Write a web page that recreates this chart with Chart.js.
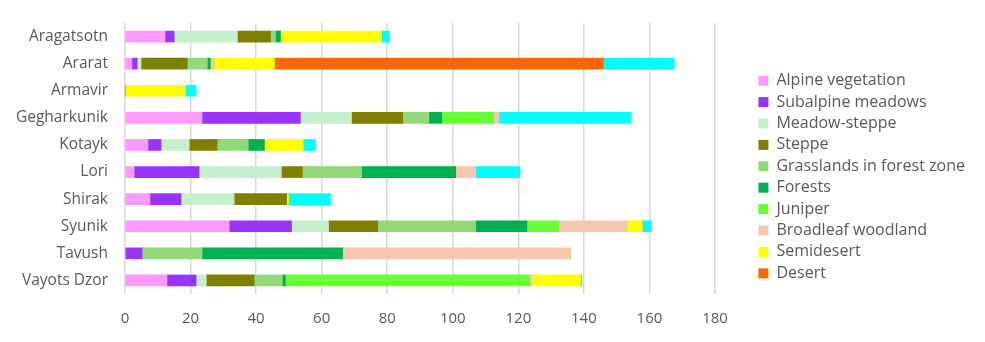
<!DOCTYPE html>
<html>
<head>
<meta charset="utf-8">
<script src="https://cdn.jsdelivr.net/npm/chart.js@4"></script>
<style>
  html, body { margin: 0; padding: 0; background: #fff; }
  #wrap { width: 985px; height: 342px; }
</style>
</head>
<body>
<div id="wrap"><canvas id="vegChart" width="985" height="342"></canvas></div>
<script>
// Regions of Armenia
const regions = ['Aragatsotn', 'Ararat', 'Armavir', 'Gegharkunik', 'Kotayk', 'Lori', 'Shirak', 'Syunik', 'Tavush', 'Vayots Dzor'];

// Area per vegetation type, one value per region
const alpine     = [12.2, 2.1, 0, 23.5, 7.0, 2.8, 7.6, 31.8, 0, 12.8];
const subalpine  = [2.8, 1.6, 0, 30.0, 4.0, 19.8, 9.5, 19.0, 5.2, 8.9];
const meadow     = [19.3, 1.2, 0, 15.6, 8.6, 25.1, 16.2, 11.3, 0, 3.1];
const steppe     = [10.1, 14.1, 0, 15.6, 8.5, 6.4, 16.0, 15.0, 0, 14.6];
const grassland  = [1.5, 6.1, 0, 8.0, 9.5, 18.1, 0, 29.9, 18.3, 8.6];
const forests    = [1.5, 0.9, 0, 3.9, 4.9, 28.7, 0, 15.6, 42.9, 0.9];
const juniper    = [0, 0, 0, 15.9, 0, 0, 0, 9.8, 0, 74.6];
const broadleaf  = [0, 1.2, 0, 1.6, 0, 6.1, 0, 20.8, 69.4, 0.7];
const semidesert = [30.9, 18.4, 18.5, 0, 11.9, 0, 0.6, 4.6, 0, 14.9];
const desert     = [0, 100.3, 0, 0, 0, 0, 0, 0, 0, 0];
const other      = [2.4, 21.7, 3.2, 40.3, 3.7, 13.5, 12.8, 2.8, 0, 0.3];

const xTicks = [0, 20, 40, 60, 80, 100, 120, 140, 160, 180];

const series = [
    ['Alpine vegetation', alpine, '#FF99FF'],
    ['Subalpine meadows', subalpine, '#9933FF'],
    ['Meadow-steppe', meadow, '#C6EFCE'],
    ['Steppe', steppe, '#808000'],
    ['Grasslands in forest zone', grassland, '#92D977'],
    ['Forests', forests, '#00B050'],
    ['Juniper', juniper, '#66FF33'],
    ['Broadleaf woodland', broadleaf, '#F6C7AD'],
    ['Semidesert', semidesert, '#FFFF00'],
    ['Desert', desert, '#FF6600'],
    ['Other', other, '#00FFFF']
];

const textColor = '#595959';
const fontFamily = '"Open Sans", sans-serif';

const ctx = document.getElementById('vegChart').getContext('2d');
new Chart(ctx, {
    type: 'bar',
    data: {
        labels: regions,
        datasets: series.map(s => ({
            label: s[0],
            data: s[1],
            backgroundColor: s[2],
            barThickness: 11
        }))
    },
    options: {
        indexAxis: 'y',
        responsive: false,
        animation: false,
        layout: {
            padding: { top: 23, bottom: 11, left: 0, right: 10 }
        },
        plugins: {
            tooltip: { enabled: false },
            legend: {
                position: 'right',
                maxWidth: 260,
                labels: {
                    boxWidth: 10,
                    boxHeight: 10,
                    padding: 5.4,
                    color: textColor,
                    font: { family: fontFamily, size: 16 },
                    filter: item => item.text !== 'Other'
                }
            }
        },
        scales: {
            x: {
                stacked: true,
                min: 0,
                max: 180,
                afterBuildTicks: s => { s.ticks = xTicks.map(v => ({ value: v })); },
                afterFit: s => { s.height = 37; },
                border: { display: false },
                grid: { color: '#D9D9D9', lineWidth: 1.5, drawTicks: false },
                ticks: {
                    color: textColor,
                    padding: 16,
                    font: { family: fontFamily, size: 15 }
                }
            },
            y: {
                stacked: true,
                afterFit: s => {
                    s.width = 125;
                    s.paddingTop = 0;
                    s.paddingBottom = 0;
                },
                border: { display: false },
                grid: { display: false, drawTicks: false },
                ticks: {
                    color: textColor,
                    padding: 17,
                    font: { family: fontFamily, size: 15.5 }
                }
            },
            // empty strip between the plot and the legend
            gap: {
                axis: 'y',
                position: 'right',
                afterFit: s => { s.width = 38; },
                border: { display: false },
                grid: { display: false, drawTicks: false },
                ticks: { display: false }
            }
        }
    }
});
</script>
</body>
</html>
